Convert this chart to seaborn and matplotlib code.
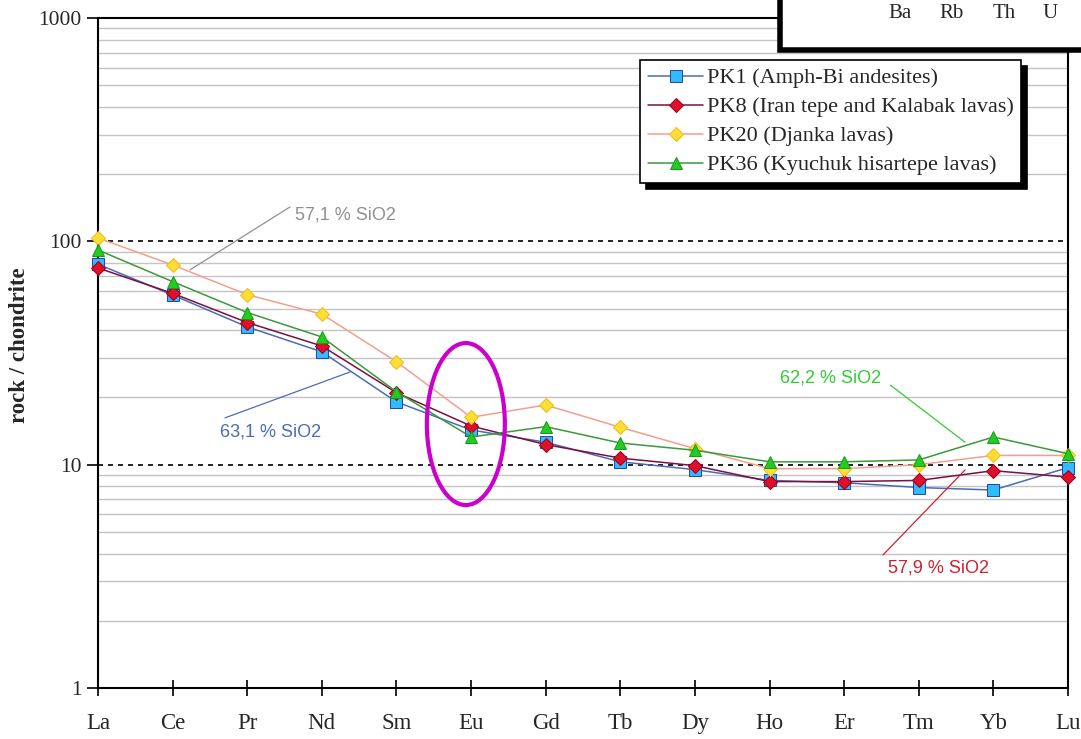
import numpy as np
import pandas as pd
import matplotlib
matplotlib.use("Agg")
import matplotlib.pyplot as plt
import seaborn as sns
from matplotlib.patches import Ellipse, Rectangle
from matplotlib.transforms import IdentityTransform

# ---- data ----
elements = ["La", "Ce", "Pr", "Nd", "Sm", "Eu", "Gd", "Tb", "Dy", "Ho", "Er", "Tm", "Yb", "Lu"]
pk1 = [79, 57.5, 41.4, 32, 19.1, 14.3, 12.6, 10.3, 9.5, 8.5, 8.3, 7.9, 7.7, 9.7]
pk8 = [76, 58.5, 43.3, 34, 21, 14.9, 12.3, 10.7, 9.9, 8.4, 8.4, 8.5, 9.4, 8.8]
pk20 = [103.5, 78.4, 57.7, 47.2, 28.9, 16.3, 18.5, 14.7, 11.8, 9.6, 9.6, 10.0, 11.0, 11.0]
pk36 = [91.5, 66, 48, 37.3, 21.2, 13.3, 14.8, 12.5, 11.6, 10.3, 10.3, 10.5, 13.3, 11.2]
labels = ["PK1 (Amph-Bi andesites)", "PK8 (Iran tepe and Kalabak lavas)",
          "PK20 (Djanka lavas)", "PK36 (Kyuchuk hisartepe lavas)"]
y_ticks = [1, 10, 100, 1000]
inset_labels = ["Ba", "Rb", "Th", "U"]

sns.set_theme(style="white")
plt.rcParams['font.family'] = ['Liberation Serif', 'DejaVu Serif']

fig = plt.figure(figsize=(10.81, 7.39), dpi=100)
ax = fig.add_axes([98/1081, 1-688/739, (1068-98)/1081, (688-18)/739])
ax.set_facecolor("white")

xs = np.arange(len(elements))
styles = [
    dict(color="#4a6cb8", marker="s", markerfacecolor="#33bbff", markeredgecolor="#2a4aa0", markersize=8),
    dict(color="#7a1040", marker="D", markerfacecolor="#e0102a", markeredgecolor="#a00020", markersize=7),
    dict(color="#f0a090", marker="D", markerfacecolor="#ffdd33", markeredgecolor="#e8c020", markersize=7),
    dict(color="#3a9a3a", marker="^", markerfacecolor="#22cc22", markeredgecolor="#1a9a1a", markersize=9),
]
series = [pk1, pk8, pk20, pk36]
for vals, lab, st in zip(series, labels, styles):
    sns.lineplot(x=xs, y=vals, ax=ax, label=lab, linewidth=1.1, clip_on=False, zorder=5, **st)

ax.set_yscale("log")
ax.set_ylim(1, 1000)
ax.set_xlim(0, len(elements) - 1)

# gridlines
for dec in [1, 10, 100]:
    for m in range(2, 10):
        ax.axhline(dec * m, color="#c4c4c4", lw=1.0, zorder=1)
for v in [10, 100]:
    ax.axhline(v, color="black", lw=1.2, ls=(0, (3, 3)), zorder=2)

ax.set_xticks(xs)
ax.set_xticklabels(elements, fontsize=16.5)
ax.set_yticks(y_ticks)
ax.set_yticklabels([str(v) for v in y_ticks], fontsize=15.5)
ax.yaxis.set_minor_locator(matplotlib.ticker.NullLocator())
ax.tick_params(axis="x", direction="inout", length=12, width=1.2, color="black", pad=12, bottom=True)
ax.tick_params(axis="y", direction="out", length=8, width=1.2, color="black", left=True, pad=4)
for s in ax.spines.values():
    s.set_color("black")
    s.set_linewidth(1.5)
    s.set_visible(True)

ax.set_xlabel("")
ax.set_ylabel("rock / chondrite", fontsize=16.5, fontweight="bold")
ax.yaxis.set_label_coords((30 - 98) / 970, (688 - 345) / 670)

# legend
leg = ax.legend(loc="upper left", bbox_to_anchor=((640-98)/970, (688-60)/670), fontsize=16,
                frameon=True, fancybox=False, edgecolor="black", framealpha=1,
                handlelength=2.5, handletextpad=0.15, borderpad=0.35, labelspacing=0.38,
                borderaxespad=0, shadow={'color': 'black', 'alpha': 1, 'ox': 4, 'oy': -4})
leg.get_frame().set_linewidth(1.2)
leg.set_zorder(10)

# annotations
ann = [
    ("57,1 % SiO2", "#909090", (2.64, 131), (1.233, 74.5), (2.574, 142.6)),
    ("63,1 % SiO2", "#4a6cb8", (1.635, 14.0), (3.378, 26.0), (1.702, 16.2)),
    ("62,2 % SiO2", "#33cc33", (9.14, 24.4), (11.62, 12.6), (10.62, 22.7)),
    ("57,9 % SiO2", "#cc2030", (10.59, 3.45), (11.62, 9.47), (10.52, 3.94)),
]
for txt, col, tpos, p1, p2 in ann:
    ax.text(tpos[0], tpos[1], txt, color=col, fontsize=13, family=["Liberation Sans", "DejaVu Sans"],
            va="center", ha="left", zorder=6)
    ax.plot([p1[0], p2[0]], [p1[1], p2[1]], color=col, lw=0.9, zorder=6)

# magenta ellipse around Eu
fig.canvas.draw()
cx, cy = ax.transData.transform((4.93, 15.2))
ell = Ellipse((cx, cy), 78, 162, transform=IdentityTransform(), fill=False,
              edgecolor="#cc00cc", lw=3, zorder=8)
fig.patches.append(ell)
ell.set_figure(fig)

# inset box from adjacent figure at top right
box = Rectangle((780/1081, 1-50/739), 0.3, 0.1, transform=fig.transFigure, facecolor="white",
                edgecolor="black", lw=4, zorder=20, clip_on=False)
fig.patches.append(box)
box.set_figure(fig)
for lab, px in zip(inset_labels, [900, 952, 1004, 1050]):
    fig.text(px/1081, 1-14/739, lab, ha="center", va="center", fontsize=15, zorder=21)

fig.savefig("out.png", dpi=100, facecolor="white")
